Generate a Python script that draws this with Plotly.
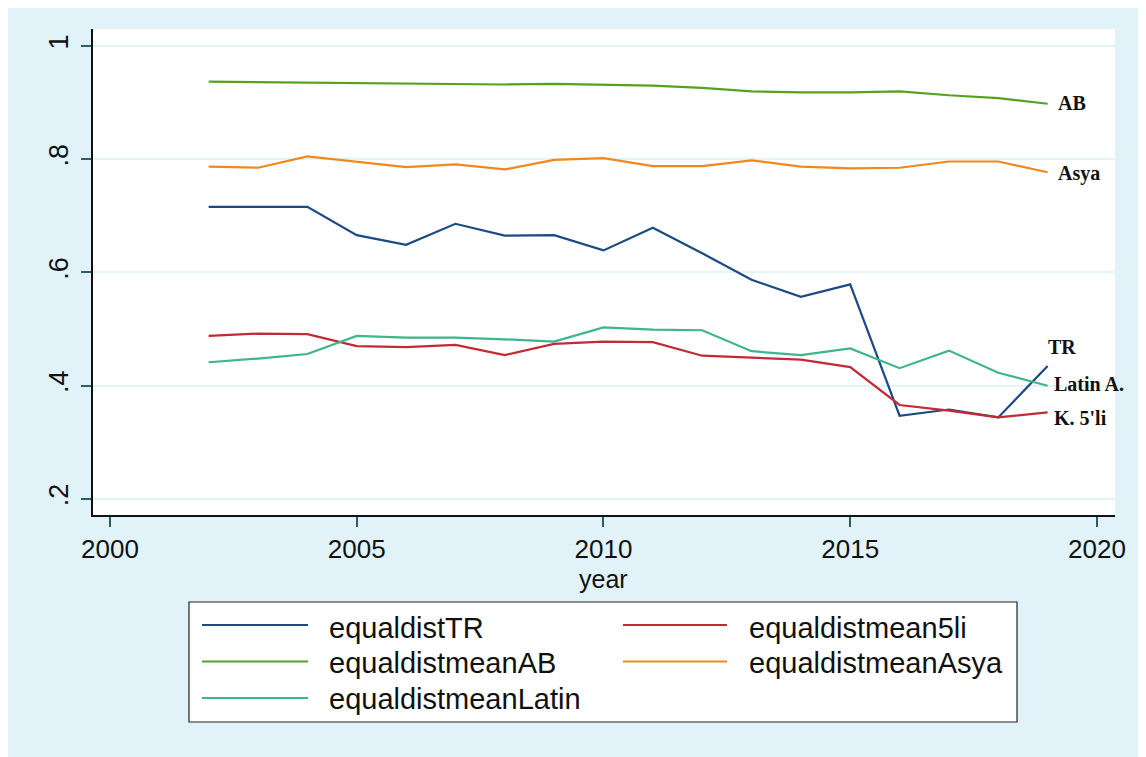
import plotly.graph_objects as go

# ---------------- data ----------------
years = list(range(2002, 2020))
equaldistTR = [0.716, 0.716, 0.716, 0.666, 0.649, 0.686, 0.665, 0.666, 0.639,
               0.679, 0.634, 0.587, 0.557, 0.579, 0.347, 0.358, 0.344, 0.435]
equaldistmean5li = [0.488, 0.492, 0.491, 0.470, 0.468, 0.472, 0.454, 0.474, 0.478,
                    0.477, 0.453, 0.449, 0.446, 0.433, 0.366, 0.356, 0.344, 0.353]
equaldistmeanAB = [0.937, 0.936, 0.936, 0.934, 0.934, 0.933, 0.932, 0.933, 0.932,
                   0.930, 0.926, 0.920, 0.918, 0.918, 0.920, 0.913, 0.908, 0.898]
equaldistmeanAsya = [0.787, 0.785, 0.805, 0.795, 0.786, 0.791, 0.782, 0.799, 0.802,
                     0.788, 0.788, 0.798, 0.787, 0.784, 0.785, 0.796, 0.796, 0.777]
equaldistmeanLatin = [0.4415, 0.448, 0.456, 0.488, 0.485, 0.485, 0.482, 0.478, 0.503,
                      0.499, 0.498, 0.461, 0.454, 0.466, 0.431, 0.462, 0.423, 0.400]

series_names = ["equaldistTR", "equaldistmean5li", "equaldistmeanAB",
                "equaldistmeanAsya", "equaldistmeanLatin"]
series_values = [equaldistTR, equaldistmean5li, equaldistmeanAB,
                 equaldistmeanAsya, equaldistmeanLatin]
series_colors = ["#1b4a84", "#c22a35", "#55a21f", "#f0891c", "#3db58d"]
end_labels = ["TR", "K. 5'li", "AB", "Asya", "Latin A."]

y_tickvals = [0.2, 0.4, 0.6, 0.8, 1.0]
y_ticktext = [".2", ".4", ".6", ".8", "1"]
x_tickvals = [2000, 2005, 2010, 2015, 2020]

# ---------------- layout geometry ----------------
# page has an 8px body margin, so the figure is 8px smaller than the window
OFF = 8
W, H = 1146 - OFF, 757 - OFF
ML, MR, MT, MB = 85, 31, 21, 242
PW, PH = W - ML - MR, H - MT - MB


def px_x(px):
    """page pixel x -> paper fraction"""
    return (px - OFF - ML) / PW


def px_y(py):
    """page pixel y -> paper fraction"""
    return (H - MB - (py - OFF)) / PH


BG = "#e1f3f9"
FONT = "Liberation Sans, Arial, sans-serif"
fig = go.Figure()

for name, vals, col in zip(series_names, series_values, series_colors):
    fig.add_trace(go.Scatter(x=years, y=vals, mode="lines", name=name,
                             line=dict(color=col, width=2.2), showlegend=False))

# end-of-line labels
label_pos = {"TR": (1046, 347), "K. 5'li": (1052, 418), "AB": (1056, 103),
             "Asya": (1056, 173), "Latin A.": (1052, 384)}
for lab in end_labels:
    px, py = label_pos[lab]
    fig.add_annotation(x=px_x(px), y=px_y(py), xref="paper", yref="paper",
                       text="<b>%s</b>" % lab, showarrow=False, xanchor="left",
                       yanchor="middle",
                       font=dict(family="Liberation Serif", size=20, color="#111111"))

shapes = []
# legend box
shapes.append(dict(type="rect", xref="paper", yref="paper", x0=px_x(189), x1=px_x(1017),
                   y0=px_y(722), y1=px_y(602), fillcolor="white",
                   line=dict(color="#222222", width=1.2)))
leg_cols = [(202, 308, 327), (623, 727, 747)]
leg_rows = [(625, 628), (661.5, 663), (698, 699)]
for i, (name, col) in enumerate(zip(series_names, series_colors)):
    r, c = divmod(i, 2)
    x0, x1, xt = leg_cols[c]
    yl, yt = leg_rows[r]
    shapes.append(dict(type="line", xref="paper", yref="paper", x0=px_x(x0), x1=px_x(x1),
                       y0=px_y(yl), y1=px_y(yl), line=dict(color=col, width=2.2)))
    fig.add_annotation(x=px_x(xt), y=px_y(yt), xref="paper", yref="paper", text=name,
                       showarrow=False, xanchor="left", yanchor="middle",
                       font=dict(family=FONT, size=29, color="#111111"))

# x axis title
fig.add_annotation(x=2010, y=px_y(579), xref="x", yref="paper", text="year",
                   showarrow=False, xanchor="center", yanchor="middle",
                   font=dict(family=FONT, size=25, color="#111111"))

fig.update_layout(
    width=W, height=H,
    margin=dict(l=ML, r=MR, t=MT, b=MB, pad=0),
    paper_bgcolor=BG, plot_bgcolor="white",
    shapes=shapes,
    font=dict(family=FONT, size=26, color="#111111"),
    xaxis=dict(range=[1999.656, 2020.365], tickvals=x_tickvals,
               showgrid=False, zeroline=False, showline=True, linecolor="#111111",
               linewidth=1.5, ticks="outside", ticklen=10, tickwidth=2, tickcolor="#2d5f69",
               tickfont=dict(size=26), ticklabelstandoff=0),
    yaxis=dict(range=[0.1717, 1.030], tickvals=y_tickvals, ticktext=y_ticktext,
               tickangle=-90, showgrid=True, gridcolor="#e3f4f9", gridwidth=2,
               zeroline=False, showline=True, linecolor="#111111", linewidth=1.5,
               ticks="outside", ticklen=10, tickwidth=2, tickcolor="#2d5f69",
               tickfont=dict(size=27), ticklabelstandoff=2),
)

fig.write_html("out.html")
